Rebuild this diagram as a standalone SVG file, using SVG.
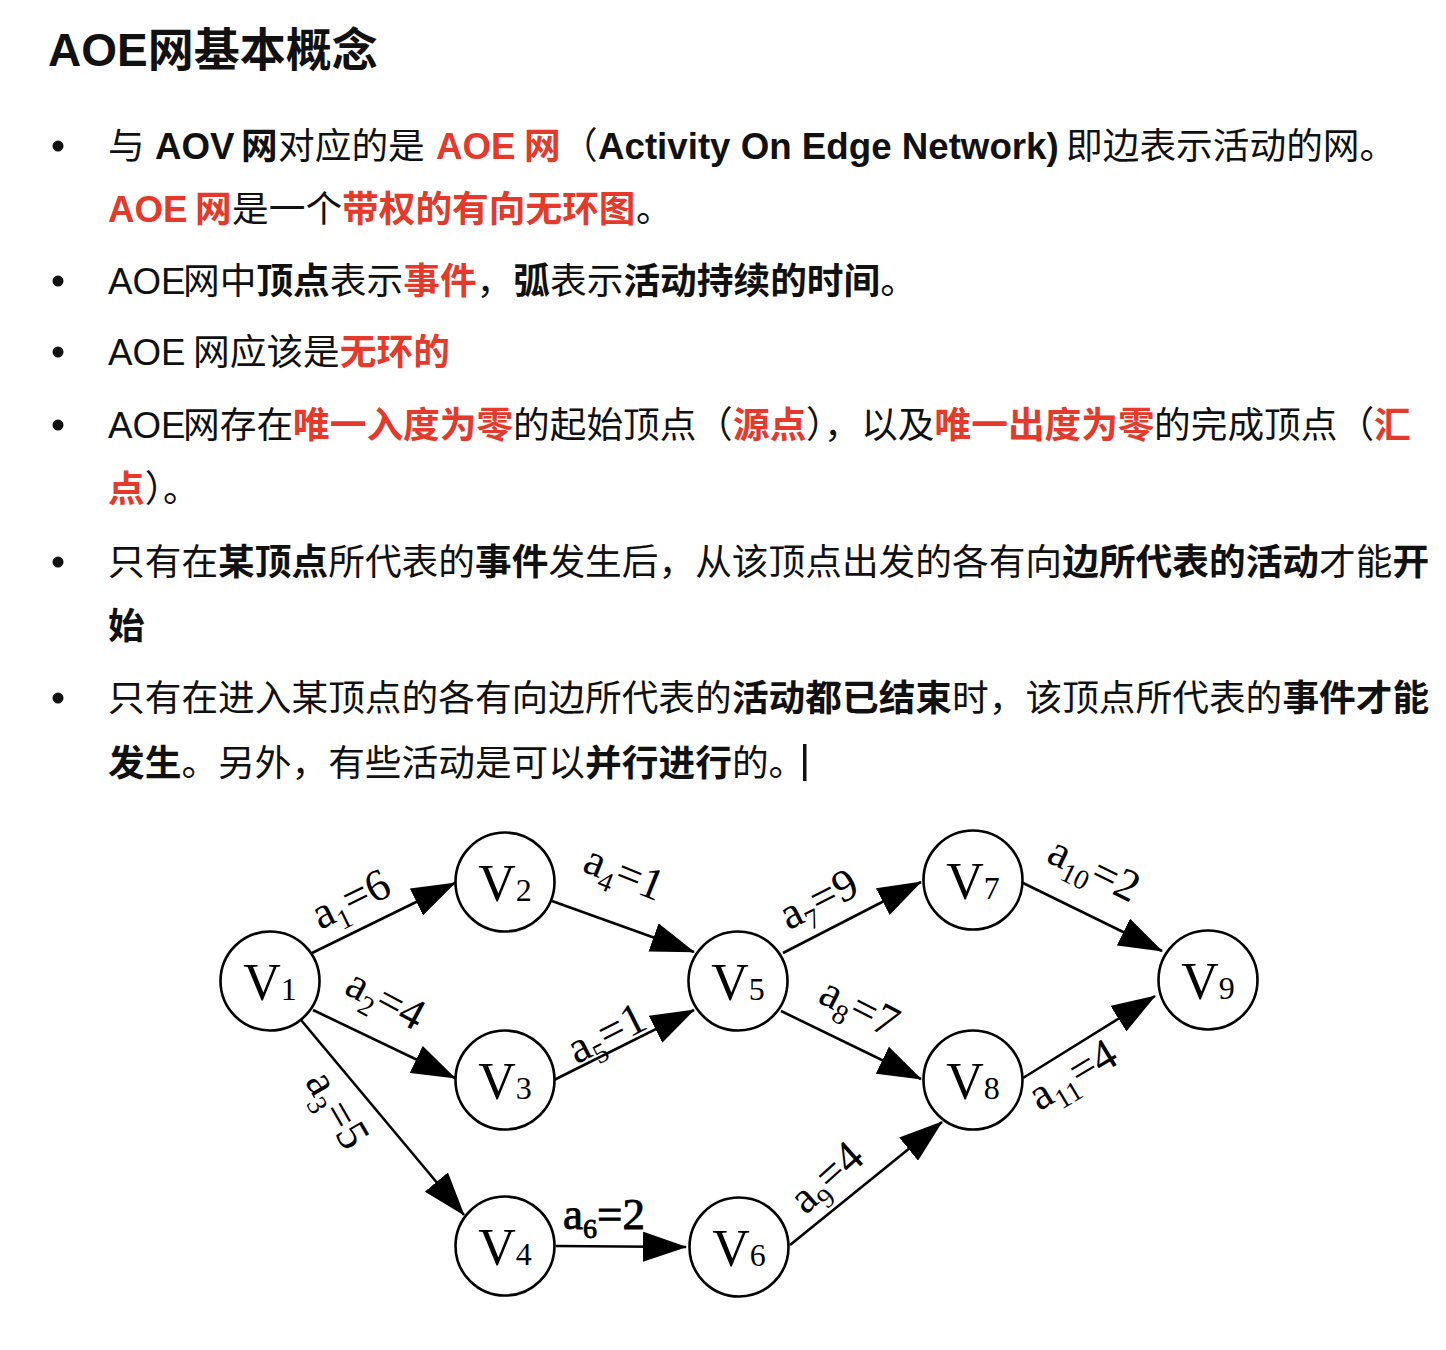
<svg xmlns="http://www.w3.org/2000/svg" width="1446" height="1350" viewBox="0 0 1446 1350">
  <style>
    .title { font-family: "Liberation Sans", "Noto Sans CJK SC", sans-serif; font-size: 46px; font-weight: 700; fill: #111; }
    .t { font-family: "Liberation Sans", "Noto Sans CJK SC", sans-serif; font-size: 36.7px; fill: #111; }
    .b { font-weight: 700; }
    .r { font-weight: 700; fill: #e53a2b; }
    .half { letter-spacing: -18.35px; }
    .bullet { fill: #111; }
    .node circle { fill: #fff; stroke: #000; stroke-width: 2.6; }
    .nl { font-family: "Liberation Serif", "Times New Roman", serif; font-size: 52px; fill: #000; text-anchor: middle; }
    .ns { font-size: 32px; }
    .edges line { stroke: #000; stroke-width: 2.6; marker-end: url(#ah); }
    .el { font-family: "Liberation Serif", "Times New Roman", serif; font-size: 45px; fill: #000; text-anchor: middle; }
    .es { font-size: 28px; }
    .heavy { stroke: #000; stroke-width: 0.9; }
  </style>
  <defs>
    <marker id="ah" viewBox="0 0 44 30" refX="43" refY="15" markerWidth="44" markerHeight="30" markerUnits="userSpaceOnUse" orient="auto">
      <path d="M0,0 L44,15 L0,30 Z" fill="#000"/>
    </marker>
  </defs>

  <rect width="1446" height="1350" fill="#fff"/>

  <!-- heading -->
  <text class="title" x="48" y="66">AOE网基本概念</text>

  <!-- bullet list -->
  <g id="bullets">
    <circle class="bullet" cx="58" cy="146" r="5.5"/>
    <circle class="bullet" cx="58" cy="281" r="5.5"/>
    <circle class="bullet" cx="58" cy="352" r="5.5"/>
    <circle class="bullet" cx="58" cy="425" r="5.5"/>
    <circle class="bullet" cx="58" cy="562" r="5.5"/>
    <circle class="bullet" cx="58" cy="698" r="5.5"/>
  </g>

  <g id="list-text">
    <text class="t" y="159"><tspan x="108">与</tspan><tspan x="155" class="b">AOV</tspan><tspan x="241" class="b">网</tspan><tspan x="278">对应的是</tspan><tspan x="436" class="r">AOE</tspan><tspan x="524" class="r">网</tspan><tspan x="561">（</tspan><tspan x="598" class="b">Activity On Edge Network)</tspan><tspan x="1066">即边表示活动的网。</tspan></text>
    <text class="t" y="222"><tspan x="108" class="r">AOE</tspan><tspan x="195" class="r">网</tspan><tspan x="232">是一个</tspan><tspan x="342" class="r">带权的有向无环图</tspan><tspan x="636">。</tspan></text>

    <text class="t" y="294"><tspan x="108">AOE</tspan><tspan x="183">网中</tspan><tspan x="256.4" class="b">顶点</tspan><tspan x="329.8">表示</tspan><tspan x="403.2" class="r">事件</tspan><tspan x="476.6">，</tspan><tspan x="513.3" class="b">弧</tspan><tspan x="550">表示</tspan><tspan x="623.4" class="b">活动持续的时间</tspan><tspan x="880.3">。</tspan></text>

    <text class="t" y="365"><tspan x="108">AOE</tspan><tspan x="193">网应该是</tspan><tspan x="339.8" class="r">无环的</tspan></text>

    <text class="t" y="438"><tspan x="108">AOE</tspan><tspan x="183">网存在</tspan><tspan x="293" class="r">唯一入度为零</tspan><tspan x="513">的起始顶点</tspan><tspan x="696">（</tspan><tspan x="733" class="r">源点</tspan><tspan x="806" class="half">）</tspan><tspan x="824">，</tspan><tspan x="861">以及</tspan><tspan x="934.5" class="r">唯一出度为零</tspan><tspan x="1154">的完成顶点</tspan><tspan x="1337.5">（</tspan><tspan x="1374" class="r">汇</tspan></text>
    <text class="t" y="502"><tspan x="108" class="r">点</tspan><tspan x="144.7" class="half">）</tspan><tspan x="163">。</tspan></text>

    <text class="t" y="575"><tspan x="108">只有在</tspan><tspan x="218.1" class="b">某顶点</tspan><tspan x="328.2">所代表的</tspan><tspan x="475" class="b">事件</tspan><tspan x="548.4">发生后，从该顶点出发的各有向</tspan><tspan x="1062.2" class="b">边所代表的活动</tspan><tspan x="1319.1">才能</tspan><tspan x="1392.5" class="b">开</tspan></text>
    <text class="t" y="639"><tspan x="108" class="b">始</tspan></text>

    <text class="t" y="711"><tspan x="108">只有在进入某顶点的各有向边所代表的</tspan><tspan x="731.9" class="b">活动都已结束</tspan><tspan x="952.1">时，该顶点所代表的</tspan><tspan x="1282.4" class="b">事件才能</tspan></text>
    <text class="t" y="776"><tspan x="108" class="b">发生</tspan><tspan x="181.4">。另外，有些活动是可以</tspan><tspan x="585.1" class="b">并行进行</tspan><tspan x="731.9">的。</tspan></text>
    <rect x="803" y="744" width="3.5" height="37" fill="#111"/>
  </g>

  <!-- AOE network: connectors -->
  <g id="edges" class="edges">
    <line x1="312" y1="953" x2="455" y2="883"/>
    <line x1="313" y1="1010" x2="455" y2="1078"/>
    <line x1="301" y1="1020" x2="464" y2="1215"/>
    <line x1="552" y1="901" x2="694" y2="952"/>
    <line x1="554" y1="1080" x2="694" y2="1010"/>
    <line x1="556" y1="1246" x2="686" y2="1247"/>
    <line x1="783" y1="953" x2="921" y2="882"/>
    <line x1="781" y1="1011" x2="921" y2="1079"/>
    <line x1="790" y1="1245" x2="942" y2="1122"/>
    <line x1="1021" y1="882" x2="1162" y2="951"/>
    <line x1="1023" y1="1078" x2="1155" y2="996"/>
  </g>

  <!-- edge weights -->
  <g id="edge-labels">
    <text class="el" transform="translate(357,912) rotate(-26)">a<tspan class="es" dy="10">1</tspan><tspan dy="-10">=6</tspan></text>
    <text class="el" transform="translate(379,1012) rotate(28)">a<tspan class="es" dy="10">2</tspan><tspan dy="-10">=4</tspan></text>
    <text class="el" transform="translate(325,1117) rotate(60)">a<tspan class="es" dy="10">3</tspan><tspan dy="-10">=5</tspan></text>
    <text class="el" transform="translate(619,886) rotate(22)">a<tspan class="es" dy="10">4</tspan><tspan dy="-10">=1</tspan></text>
    <text class="el" transform="translate(613,1046) rotate(-27)">a<tspan class="es" dy="10">5</tspan><tspan dy="-10">=1</tspan></text>
    <text class="el heavy" x="604" y="1229">a<tspan class="es" dy="9">6</tspan><tspan dy="-9">=2</tspan></text>
    <text class="el" transform="translate(825,912) rotate(-27)">a<tspan class="es" dy="10">7</tspan><tspan dy="-10">=9</tspan></text>
    <text class="el" transform="translate(853,1020) rotate(27)">a<tspan class="es" dy="10">8</tspan><tspan dy="-10">=7</tspan></text>
    <text class="el" transform="translate(836,1188) rotate(-42)">a<tspan class="es" dy="10">9</tspan><tspan dy="-10">=4</tspan></text>
    <text class="el" transform="translate(1088,882) rotate(26)">a<tspan class="es" dy="10">10</tspan><tspan dy="-10">=2</tspan></text>
    <text class="el" transform="translate(1080,1087) rotate(-31)">a<tspan class="es" dy="10">11</tspan><tspan dy="-10">=4</tspan></text>
  </g>

  <!-- AOE network: event nodes -->
  <g id="v1" class="node"><circle cx="270" cy="981" r="49.5"/><text class="nl" x="270" y="1000">V<tspan class="ns">1</tspan></text></g>
  <g id="v2" class="node"><circle cx="505" cy="882" r="49.5"/><text class="nl" x="505" y="901">V<tspan class="ns">2</tspan></text></g>
  <g id="v3" class="node"><circle cx="505" cy="1080" r="49.5"/><text class="nl" x="505" y="1099">V<tspan class="ns">3</tspan></text></g>
  <g id="v4" class="node"><circle cx="505" cy="1246" r="49.5"/><text class="nl" x="505" y="1265">V<tspan class="ns">4</tspan></text></g>
  <g id="v5" class="node"><circle cx="738" cy="981" r="49.5"/><text class="nl" x="738" y="1000">V<tspan class="ns">5</tspan></text></g>
  <g id="v6" class="node"><circle cx="739" cy="1247" r="49.5"/><text class="nl" x="739" y="1266">V<tspan class="ns">6</tspan></text></g>
  <g id="v7" class="node"><circle cx="973" cy="880" r="49.5"/><text class="nl" x="973" y="899">V<tspan class="ns">7</tspan></text></g>
  <g id="v8" class="node"><circle cx="973" cy="1080" r="49.5"/><text class="nl" x="973" y="1099">V<tspan class="ns">8</tspan></text></g>
  <g id="v9" class="node"><circle cx="1208" cy="980" r="49.5"/><text class="nl" x="1208" y="999">V<tspan class="ns">9</tspan></text></g>
</svg>
